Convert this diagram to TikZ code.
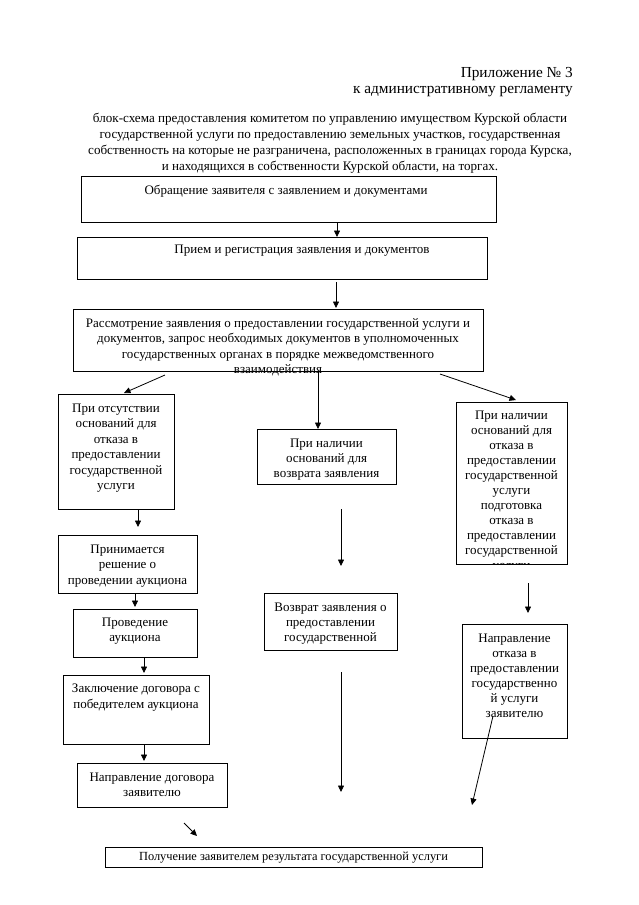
\documentclass[tikz,border=0pt]{standalone}
\usepackage{fontspec}
\setmainfont{Liberation Serif}
\usetikzlibrary{arrows.meta,calc}
\begin{document}
\begin{tikzpicture}[x=1pt,y=-1pt,
  box/.style={draw, line width=0.8pt, inner sep=0pt, anchor=north west},
  txt/.style={font=\fontsize{13}{15.5}\selectfont, align=center, inner sep=0pt, anchor=north},
  tighttxt/.style={txt, font=\fontsize{13}{15}\selectfont},
  arr/.style={line width=0.8pt, -{Triangle[length=6.5pt,width=6pt]}},
  hdr/.style={font=\fontsize{15.3}{18}\selectfont, anchor=east, inner sep=0pt},
]
\fill[white] (0,0) rectangle (639,905);
\useasboundingbox (0,0) rectangle (639,905);

% header
\node[hdr] (h1) at (573,74) {Приложение № 3};
\node[hdr] (h2) at (573,91.5) {к административному регламенту};
\node[font=\fontsize{13.1}{16}\selectfont, align=center, anchor=north, inner sep=0pt] (title) at (330,113)
 {блок-схема предоставления комитетом по управлению имуществом Курской области\\
  государственной услуги по предоставлению земельных участков, государственная\\
  собственность на которые не разграничена, расположенных в границах города Курска,\\
  и находящихся в собственности Курской области, на торгах.};

% boxes
\node[box, minimum width=415pt, minimum height=46pt] (b1) at (81,176) {};
\node[txt] (b1t) at (286,185) {Обращение заявителя с заявлением и документами};
\node[box, minimum width=410pt, minimum height=42pt] (b2) at (77,237) {};
\node[txt] (b2t) at (302,245) {Прием и регистрация заявления и документов};
\node[box, minimum width=410pt, minimum height=62pt] (b3) at (73,309) {};
\node[txt] (b3t) at (278,318) {Рассмотрение заявления о предоставлении государственной услуги и\\
 документов, запрос необходимых документов в уполномоченных\\
 государственных органах в порядке межведомственного\\
 взаимодействия};

% left column
\node[box, minimum width=116pt, minimum height=115pt] (l1) at (58,394) {};
\node[txt] (l1t) at (116,403.5) {При отсутствии\\оснований для\\отказа в\\предоставлении\\государственной\\услуги};
\node[box, minimum width=139pt, minimum height=58pt] (l2) at (58,535) {};
\node[txt] (l2t) at (127.5,544.5) {Принимается\\решение о\\проведении аукциона};
\node[box, minimum width=124pt, minimum height=48pt] (l3) at (73,609) {};
\node[txt] (l3t) at (135,617.5) {Проведение\\аукциона};
\node[box, minimum width=146pt, minimum height=69pt] (l4) at (63,675) {};
\node[txt] (l4t) at (136,684) {Заключение договора с\\победителем аукциона};
\node[box, minimum width=150pt, minimum height=44pt] (l5) at (77,763) {};
\node[txt] (l5t) at (152,772.5) {Направление договора\\заявителю};

% middle column
\node[box, minimum width=139pt, minimum height=55pt] (m1) at (257,429) {};
\node[tighttxt] (m1t) at (326.5,438.5) {При наличии\\оснований для\\возврата заявления};
\node[box, minimum width=133pt, minimum height=57pt] (m2) at (264,593) {};
\node[tighttxt] (m2t) at (330.5,602.5) {Возврат заявления о\\предоставлении\\государственной};

% right column
\node[box, minimum width=111pt, minimum height=162pt] (r1) at (456,402) {};
\begin{scope}
\clip (r1.north west) rectangle (r1.south east);
\node[tighttxt] (r1t) at (511.5,410.5) {При наличии\\оснований для\\отказа в\\предоставлении\\государственной\\услуги\\подготовка\\отказа в\\предоставлении\\государственной\\услуги};
\end{scope}
\node[box, minimum width=105pt, minimum height=114pt] (r2) at (462,624) {};
\node[tighttxt] (r2t) at (514.5,633.5) {Направление\\отказа в\\предоставлении\\государственно\\й услуги\\заявителю};

% final
\node[box, minimum width=377pt, minimum height=20pt] (f) at (105,847) {};
\node[font=\fontsize{12.4}{14}\selectfont, inner sep=0pt] (ft) at (293.5,858) {Получение заявителем результата государственной услуги};

% arrow end points
\coordinate (a1s) at (337,222); \coordinate (a1e) at (337,237);
\coordinate (a2s) at (336,282); \coordinate (a2e) at (336,308);
\coordinate (a3s) at (165,375); \coordinate (a3e) at (124,393);
\coordinate (a4s) at (318,371); \coordinate (a4e) at (318,429);
\coordinate (a5s) at (440,374); \coordinate (a5e) at (516,400);
\coordinate (a6s) at (138,510); \coordinate (a6e) at (138,527);
\coordinate (a7s) at (135,594); \coordinate (a7e) at (135,607);
\coordinate (a8s) at (144,658); \coordinate (a8e) at (144,673);
\coordinate (a9s) at (144,745); \coordinate (a9e) at (144,761);
\coordinate (m1s) at (341,509); \coordinate (m1e) at (341,566);
\coordinate (m2s) at (341,672); \coordinate (m2e) at (341,792);
\coordinate (r1s) at (528,583); \coordinate (r1e) at (528,613);
\coordinate (r2s) at (493,716); \coordinate (r2e) at (472,805);
\coordinate (f1s) at (184,823); \coordinate (f1e) at (197,836);

\foreach \p in {a1,a2,a3,a4,a5,a6,a7,a8,a9,m1,m2,r1,r2,f1}
  \draw[arr] (\p s) -- (\p e);
\end{tikzpicture}
\end{document}
